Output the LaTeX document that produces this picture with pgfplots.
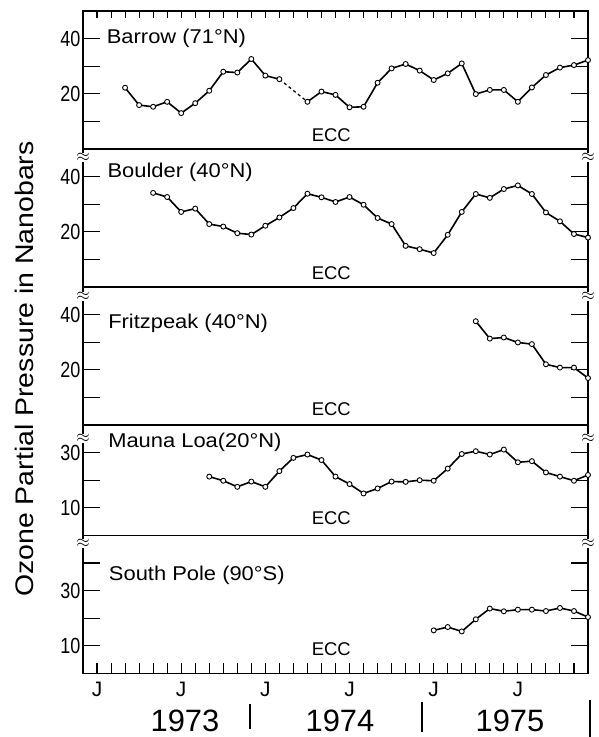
\documentclass[border=0pt]{standalone}
\usepackage{fontspec}
\setmainfont{Liberation Sans}
\newfontfamily\titlefont[FakeStretch=1.1]{Liberation Sans}
\newfontfamily\ylabfont[FakeStretch=1.12]{Liberation Sans}
\newfontfamily\tickfontfam[FakeStretch=0.82]{Liberation Sans}
\usepackage{pgfplots}
\pgfplotsset{compat=1.18}

\pgfplotsset{
  panel/.style={
    scale only axis, width=505bp, xmin=-1, xmax=35, ymin=0,
    axis line style={line width=1.2bp},
    tick align=inside, ytick pos=both, yticklabel pos=left,
    major tick length=17bp,
    every tick/.style={black, line width=1.1bp},
    yticklabel style={font=\tickfontfam\fontsize{22}{22}\selectfont, xshift=1bp},
    /pgf/number format/assume math mode=true,
    clip=false, anchor=south west,
  },
  series/.style={black, line width=1.6bp, mark=*, mark size=2.5bp,
    mark options={solid, fill=white, draw=black, line width=0.9bp}},
}
\tikzset{
  ptitle/.style={anchor=west, font=\titlefont\fontsize{20}{24}\selectfont},
  ecc/.style={font=\fontsize{18.5}{20}\selectfont},
  brk/.style={fill=white, inner sep=0.3bp, font=\fontsize{17}{17}\selectfont},
}

\begin{document}
\begin{tikzpicture}
\useasboundingbox (0bp,0bp) rectangle (599bp,737bp);

% ---------------- Barrow ----------------
\begin{axis}[panel, at={(83bp,588bp)}, height=138bp, ymax=50,
  ytick={10,20,30,40}, yticklabels={,20,,40},
  xtick={0,...,34}, xticklabels={}, xtick pos=upper,
  xtick style={/pgfplots/major tick length=7bp}]
\addplot[series] coordinates {
(2,22.2)(3,15.9)(4,15.3)(5,17.1)(6,13.0)(7,16.6)(8,21.1)(9,28.0)
(10,27.7)(11,32.6)(12,26.6)(13,25.3)};
\addplot[black, line width=1.3bp, dashed] coordinates {(13,25.3)(15,17.1)};
\addplot[series] coordinates {
(15,17.1)(16,20.8)(17,19.6)(18,15.1)(19,15.3)(20,24.0)(21,29.2)(22,30.8)
(23,28.4)(24,25.0)(25,27.4)(26,31.0)(27,19.9)(28,21.4)(29,21.4)(30,17.1)
(31,22.3)(32,26.8)(33,29.5)(34,30.4)(35,32.2)};
\node[ptitle] at (axis cs:0.45,40) {Barrow (71°N)};
\node[ecc] at (axis cs:16.7,5.1) {ECC};
\end{axis}

% ---------------- Boulder ----------------
\begin{axis}[panel, at={(83bp,450bp)}, height=138bp, ymax=50,
  ytick={10,20,30,40}, yticklabels={,20,,40}, xtick=\empty]
\addplot[series] coordinates {
(4,34.1)(5,32.6)(6,27.2)(7,28.4)(8,22.8)(9,21.9)(10,19.5)(11,19.0)
(12,22.2)(13,25.2)(14,28.6)(15,33.8)(16,32.5)(17,30.8)(18,32.6)(19,29.8)
(20,25.0)(21,22.8)(22,14.9)(23,13.7)(24,12.3)(25,18.9)(26,27.2)(27,33.7)
(28,32.3)(29,35.5)(30,36.8)(31,33.7)(32,27.0)(33,23.8)(34,19.2)(35,17.9)};
\node[ptitle] at (axis cs:0.5,41.5) {Boulder (40°N)};
\node[ecc] at (axis cs:16.7,5.1) {ECC};
\node[brk] at (axis cs:-1,47) {$\approx$};
\node[brk] at (axis cs:35,47) {$\approx$};
\end{axis}

% ---------------- Fritzpeak ----------------
\begin{axis}[panel, at={(83bp,312bp)}, height=138bp, ymax=50,
  ytick={10,20,30,40}, yticklabels={,20,,40}, xtick=\empty]
\addplot[series] coordinates {
(27,37.6)(28,31.3)(29,31.7)(30,29.9)(31,29.3)(32,22.0)(33,20.8)(34,20.8)(35,17.0)};
\node[ptitle] at (axis cs:0.55,36.8) {Fritzpeak (40°N)};
\node[ecc] at (axis cs:16.7,5.7) {ECC};
\node[brk] at (axis cs:-1,46.5) {$\approx$};
\node[brk] at (axis cs:35,46.5) {$\approx$};
\end{axis}

% ---------------- Mauna Loa ----------------
\begin{axis}[panel, at={(83bp,201.6bp)}, height=110.4bp, ymax=40,
  ytick={10,20,30}, yticklabels={10,,30}, xtick=\empty]
\addplot[series] coordinates {
(8,21.3)(9,19.8)(10,17.6)(11,19.5)(12,17.6)(13,23.3)(14,28.1)(15,29.3)
(16,27.3)(17,21.3)(18,18.6)(19,15.2)(20,17.0)(21,19.5)(22,19.4)(23,20.0)
(24,19.8)(25,24.2)(26,29.5)(27,30.5)(28,29.3)(29,31.1)(30,26.5)(31,26.9)
(32,22.8)(33,21.3)(34,19.8)(35,21.9)};
\node[ptitle] at (axis cs:0.55,33.6) {Mauna Loa(20°N)};
\node[ecc] at (axis cs:16.7,6.1) {ECC};
\node[brk] at (axis cs:-1,35) {$\approx$};
\node[brk] at (axis cs:35,35) {$\approx$};
\end{axis}

% ---------------- South Pole ----------------
\begin{axis}[panel, at={(83bp,63.6bp)}, height=138bp, ymax=50,
  ytick={10,20,30,40}, yticklabels={10,,30,},
  xtick={0,...,34},
  xticklabels={J,,,,,,J,,,,,,J,,,,,,J,,,,,,J,,,,,,J,,,,},
  xtick pos=lower,
  xtick style={/pgfplots/major tick length=10bp},
  xticklabel style={font=\fontsize{21}{21}\selectfont, yshift=-5bp}]
\addplot[series] coordinates {
(24,15.6)(25,16.8)(26,15.2)(27,19.6)(28,23.5)(29,22.5)(30,23.1)(31,23.1)
(32,22.6)(33,23.7)(34,22.6)(35,20.4)};
\node[ptitle] at (axis cs:0.6,35.5) {South Pole (90°S)};
\node[ecc] at (axis cs:16.7,8.9) {ECC};
\node[brk] at (axis cs:-1,47) {$\approx$};
\node[brk] at (axis cs:35,47) {$\approx$};
\end{axis}

% year labels and separators
\begin{scope}[font=\fontsize{31}{31}\selectfont]
\node at (185bp,16bp) {1973};
\node at (340bp,16bp) {1974};
\node at (510bp,16bp) {1975};
\end{scope}
\draw[line width=1.3bp] (250bp,33bp) -- (250bp,8bp);
\draw[line width=1.3bp] (422bp,35bp) -- (422bp,5bp);
\draw[line width=1.3bp] (590bp,37bp) -- (590bp,0bp);

% y axis label
\node[rotate=90, font=\ylabfont\fontsize{25.5}{26}\selectfont] at (24bp,368bp)
  {Ozone Partial Pressure in Nanobars};
\end{tikzpicture}
\end{document}
